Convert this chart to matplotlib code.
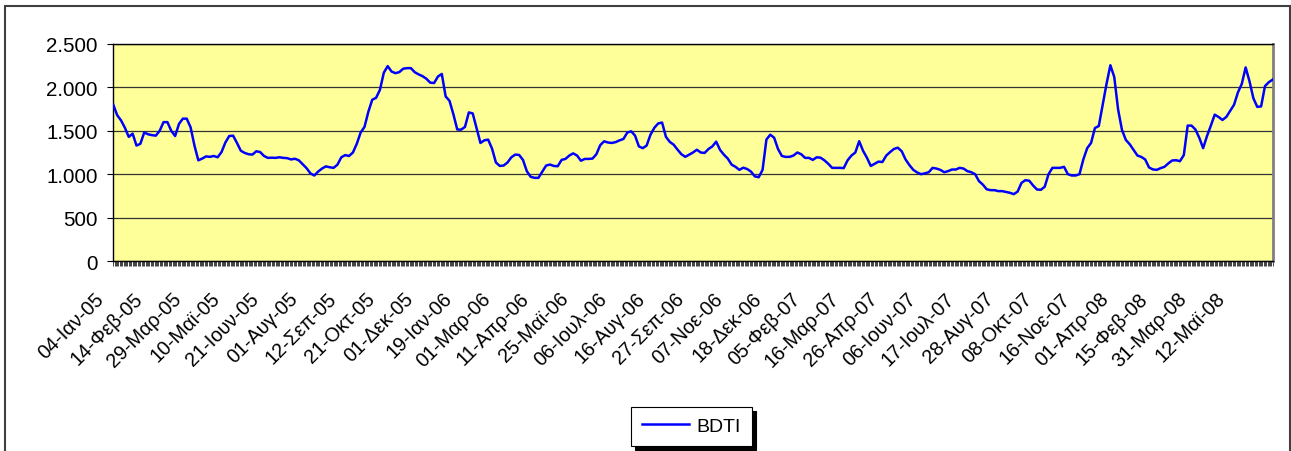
import numpy as np
import matplotlib
matplotlib.use('Agg')
import matplotlib.pyplot as plt
from matplotlib.patches import Rectangle
from matplotlib.transforms import ScaledTranslation

# =============================================
#                    DATOS
# =============================================

# BDTI (un valor cada ~3 sesiones)
bdti = [
    1800, 1680, 1620, 1535, 1430, 1467, 1330, 1350, 1480, 1460,
    1450, 1444, 1500, 1600, 1600, 1500, 1440, 1580, 1640, 1640,
    1540, 1330, 1160, 1180, 1205, 1200, 1210, 1195, 1255, 1365,
    1440, 1444, 1360, 1270, 1245, 1230, 1226, 1264, 1255, 1210,
    1188, 1190, 1188, 1195, 1188, 1185, 1170, 1178, 1160, 1115,
    1070, 1010, 985, 1030, 1065, 1090, 1080, 1073, 1110, 1195,
    1220, 1210, 1250, 1350, 1480, 1545, 1720, 1858, 1880, 1973,
    2170, 2245, 2183, 2164, 2176, 2215, 2222, 2222, 2175, 2150,
    2130, 2100, 2055, 2050, 2125, 2155, 1896, 1845, 1690, 1515,
    1513, 1545, 1712, 1700, 1530, 1360, 1390, 1398, 1295, 1135,
    1095, 1100, 1135, 1195, 1226, 1222, 1165, 1035, 970, 958,
    958, 1030, 1100, 1111, 1095, 1092, 1165, 1176, 1215, 1240,
    1215, 1155, 1176, 1176, 1180, 1230, 1335, 1379, 1365, 1360,
    1370, 1390, 1406, 1480, 1494, 1445, 1320, 1300, 1330, 1455,
    1535, 1585, 1595, 1430, 1372, 1340, 1283, 1230, 1200, 1225,
    1250, 1282, 1250, 1245, 1290, 1320, 1375, 1280, 1225, 1180,
    1110, 1085, 1050, 1075, 1060, 1030, 975, 965, 1050, 1400,
    1455, 1420, 1290, 1210, 1199, 1200, 1215, 1250, 1230, 1188,
    1188, 1165, 1195, 1190, 1160, 1120, 1073, 1073, 1073, 1070,
    1160, 1215, 1250, 1380, 1270, 1190, 1095, 1120, 1145, 1140,
    1214, 1255, 1291, 1305, 1265, 1170, 1105, 1050, 1020, 1000,
    1010, 1023, 1073, 1065, 1050, 1023, 1035, 1054, 1054, 1073,
    1065, 1035, 1023, 1000, 920, 880, 826, 816, 816, 805,
    805, 795, 786, 770, 800, 900, 931, 925, 870, 824,
    820, 855, 1000, 1073, 1073, 1073, 1085, 1000, 985, 985,
    1000, 1170, 1300, 1360, 1532, 1555, 1800, 2040, 2255, 2120,
    1745, 1510, 1395, 1345, 1280, 1215, 1199, 1170, 1078, 1055,
    1050, 1070, 1085, 1125, 1158, 1161, 1150, 1220, 1560, 1560,
    1515, 1420, 1300, 1440, 1560, 1686, 1659, 1625, 1660, 1730,
    1800, 1942, 2040, 2230, 2070, 1875, 1776, 1781, 2015, 2060,
    2090,
]

fechas = ['04-Ιαν-05', '14-Φεβ-05', '29-Μαρ-05', '10-Μαϊ-05', '21-Ιουν-05',
          '01-Αυγ-05', '12-Σεπ-05', '21-Οκτ-05', '01-Δεκ-05', '19-Ιαν-06',
          '01-Μαρ-06', '11-Απρ-06', '25-Μαϊ-06', '06-Ιουλ-06', '16-Αυγ-06',
          '27-Σεπ-06', '07-Νοε-06', '18-Δεκ-06', '05-Φεβ-07', '16-Μαρ-07',
          '26-Απρ-07', '06-Ιουν-07', '17-Ιουλ-07', '28-Αυγ-07', '08-Οκτ-07',
          '16-Νοε-07', '01-Απρ-08', '15-Φεβ-08', '31-Μαρ-08', '12-Μαϊ-08']
paso_fechas = 10

y_ticks = [0, 500, 1000, 1500, 2000, 2500]
y_labels = ['0', '500', '1.000', '1.500', '2.000', '2.500']

# =============================================
#                  GRÁFICO
# =============================================

plt.rcParams['font.family'] = ['Liberation Sans', 'DejaVu Sans']

W, H = 1291, 452
fig = plt.figure(figsize=(W / 100, H / 100), dpi=100)
ax = fig.add_axes([113.3 / W, 1 - 262 / H, 1159.4 / W, 217 / H])
ax.set_facecolor('#FFFF99')

x = np.arange(len(bdti))
ax.plot(x, bdti, color='#0000FF', lw=1.8, label='BDTI', zorder=3)

ax.set_xlim(0, len(bdti) - 1)
ax.set_ylim(0, 2500)

ax.set_yticks(y_ticks)
ax.set_yticklabels(y_labels)
ax.yaxis.grid(True, color='#333333', lw=0.9)
ax.set_axisbelow(True)
ax.tick_params(axis='y', direction='out', length=4.3, width=0.8, pad=7, labelsize=14.8)

pos = np.arange(len(fechas)) * paso_fechas
ax.set_xticks(pos)
ax.set_xticklabels(fechas)
ax.set_xticks(np.linspace(0, len(bdti) - 1, 3 * (len(bdti) - 1) + 1), minor=True)
ax.tick_params(axis='x', which='both', direction='out', length=3.6, width=0.6,
               color='#222222')
ax.tick_params(axis='x', which='major', pad=21, labelsize=14.2)

off = ScaledTranslation(-0.12, 0, fig.dpi_scale_trans)
for lab in ax.get_xticklabels():
    lab.set_rotation(45)
    lab.set_ha('right')
    lab.set_va('center')
    lab.set_rotation_mode('anchor')
    lab.set_transform(lab.get_transform() + off)

for s in ['left', 'bottom', 'top']:
    ax.spines[s].set_color('black')
    ax.spines[s].set_linewidth(1)
ax.spines['right'].set_color('#808080')
ax.spines['right'].set_linewidth(2)

# marco exterior
fig.add_artist(Rectangle((4.5 / W, -0.05), (1290 - 4.5) / W, (H - 6.5) / H + 0.05,
                         transform=fig.transFigure, fill=False,
                         edgecolor='#404040', lw=1.5))

leg = fig.legend(loc='center', bbox_to_anchor=(691.5 / W, 1 - 427 / H),
                 fontsize=14, fancybox=False, edgecolor='black',
                 handlelength=2.42, handletextpad=0.4, borderpad=0.55,
                 shadow={'ox': 3, 'oy': -3, 'color': 'black', 'alpha': 1})
leg.get_frame().set_linewidth(0.8)

fig.savefig('out.png', dpi=100)
